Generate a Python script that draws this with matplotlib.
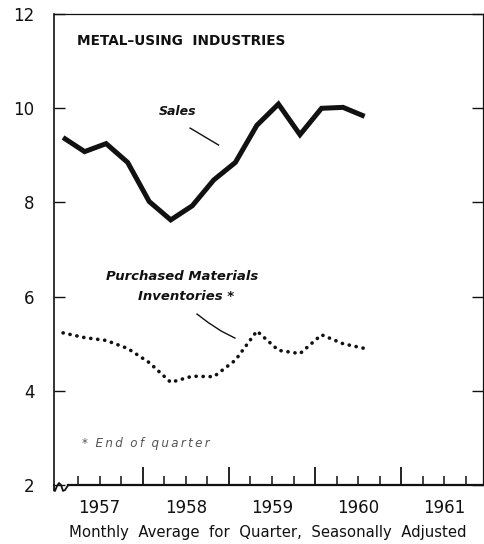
import matplotlib
matplotlib.use("Agg")
import matplotlib.pyplot as plt
import matplotlib.ticker as mticker
import numpy as np

# ─── data (quarterly, 1957 Q1 .. 1960 Q3) ─────────────────
quarters = ["1957Q1", "1957Q2", "1957Q3", "1957Q4",
            "1958Q1", "1958Q2", "1958Q3", "1958Q4",
            "1959Q1", "1959Q2", "1959Q3", "1959Q4",
            "1960Q1", "1960Q2", "1960Q3"]
sales = [9.38, 9.08, 9.25, 8.85, 8.02, 7.63, 7.93, 8.48,
         8.85, 9.64, 10.09, 9.44, 10.0, 10.02, 9.83]
inventories = [5.23, 5.13, 5.07, 4.90, 4.60, 4.18, 4.31, 4.30,
               4.65, 5.27, 4.86, 4.79, 5.19, 5.00, 4.90]
years = [1957, 1958, 1959, 1960, 1961]
y_ticks = [2, 4, 6, 8, 10, 12]
# ──────────────────────────────────────────────────────────

INK = "#111111"
plt.rcParams["font.family"] = ["DejaVu Sans"]


def spaced(s):
    # letter-spaced text, like the old typeset label
    return "  ".join("\u2009".join(w) for w in s.split(" "))


x = np.array([int(q[:4]) + (int(q[-1]) - 1) * 0.25 for q in quarters]) + 0.075

fig = plt.figure(figsize=(4.84, 5.44), dpi=100)
fig.patch.set_facecolor("white")
ax = fig.add_axes([0.1116, 0.1085, 0.8864, 0.8655])

ax.plot(x, sales, color=INK, linewidth=3.6, solid_joinstyle="miter",
        solid_capstyle="butt")
ax.plot(x, inventories, color=INK, linewidth=2.6,
        linestyle=(0, (0.05, 1.9)), dash_capstyle="round")

ax.set_xlim(1956.97, 1961.95)
ax.set_ylim(2, 12)

# spines
ax.spines["left"].set_linewidth(1.2)
ax.spines["top"].set_linewidth(0.9)
ax.spines["right"].set_linewidth(0.9)
ax.spines["bottom"].set_linewidth(1.6)
for s in ax.spines.values():
    s.set_color(INK)
ax.spines["bottom"].set_bounds(1957.13, 1961.95)

# squiggle axis break at lower-left corner
ax.plot([0.0, 0.0, 0.0023, 0.007, 0.0117, 0.0163, 0.021, 0.0256, 0.0326],
        [0.0, -0.012, -0.0127, -0.002, 0.0042, 0.0, -0.0127, -0.0106, -0.001],
        transform=ax.transAxes, color=INK, linewidth=1.3, clip_on=False,
        solid_joinstyle="round")

# y ticks
ax.set_yticks(y_ticks)
ax.set_yticklabels([str(v) for v in y_ticks])
ax.tick_params(axis="y", which="major", direction="in", length=8, width=1.0,
               left=True, right=True, labelsize=12, pad=14, colors=INK)

# x ticks: long at year boundaries, short at quarters
ax.xaxis.set_major_locator(mticker.FixedLocator(years[1:]))
ax.tick_params(axis="x", which="major", direction="in", length=13, width=1.3,
               bottom=True, labelbottom=False, colors=INK)
quarter_ticks = [yr + q * 0.25 for yr in years for q in (1, 2, 3)]
qx, qy = [], []
for t in quarter_ticks:
    qx += [t, t, np.nan]
    qy += [0.0, 0.02, np.nan]
ax.plot(qx, qy, transform=ax.get_xaxis_transform(), color=INK,
        linewidth=1.1, solid_capstyle="butt", clip_on=False, zorder=3)
for yr in years:
    ax.text(yr + 0.5, -0.03, str(yr), transform=ax.get_xaxis_transform(),
            ha="center", va="top", fontsize=12, color=INK)

fig.text(0.553, 0.021,
         "Monthly  Average  for  Quarter,  Seasonally  Adjusted",
         ha="center", va="center", fontsize=10.7, color=INK)

# annotations
ax.text(0.053, 0.944, "METAL\u2013USING  INDUSTRIES", transform=ax.transAxes,
        ha="left", va="center", fontsize=9.8, fontweight="bold", color=INK)
ax.text(1958.405, 9.94, "Sales", ha="center", va="center", fontsize=9,
        fontweight="bold", fontstyle="italic", color=INK)
ax.plot([1958.55, 1958.88], [9.58, 9.22], color=INK, linewidth=1.0)

ax.text(1958.46, 6.42, "Purchased Materials", ha="center", va="center",
        fontsize=9.5, fontweight="bold", fontstyle="italic", color=INK)
ax.text(1958.50, 6.01, "Inventories *", ha="center", va="center",
        fontsize=9.5, fontweight="bold", fontstyle="italic", color=INK)
ax.plot([1958.63, 1958.76, 1958.91, 1959.07],
        [5.63, 5.45, 5.27, 5.12], color=INK, linewidth=1.0)

ax.text(1957.295, 2.88, spaced("* End of quarter"), ha="left", va="center",
        fontsize=8.6, fontstyle="italic", color="#555555")

fig.savefig("out.png", dpi=100, facecolor="white")
